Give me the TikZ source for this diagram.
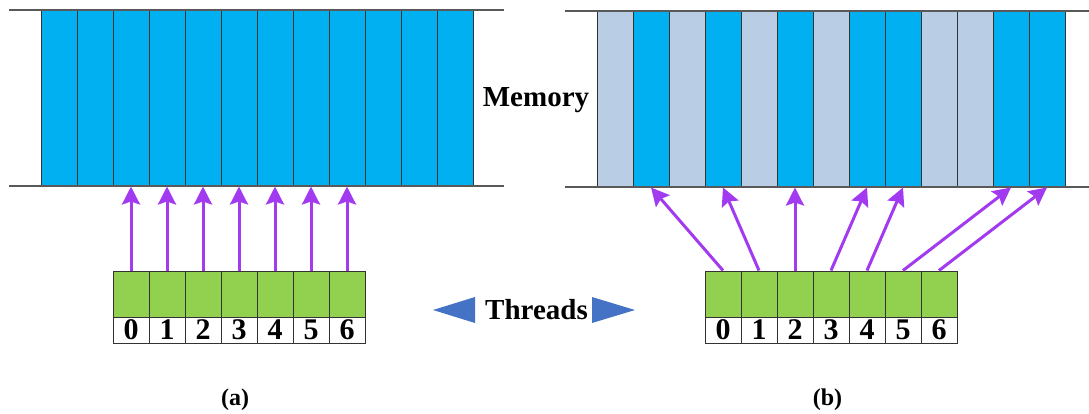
\documentclass[tikz,border=0pt]{standalone}
\usepackage{fontspec}
\setmainfont{Liberation Serif}
\usepackage{tikz}
\usetikzlibrary{arrows.meta}

\definecolor{memblue}{HTML}{00B0F0}
\definecolor{memgrey}{HTML}{B9CDE5}
\definecolor{thrgreen}{HTML}{92D050}
\definecolor{accpurple}{HTML}{A23BF0}
\definecolor{triblue}{HTML}{4472C4}
\definecolor{cellline}{HTML}{333333}
\definecolor{busline}{HTML}{595959}

\begin{document}
\begin{tikzpicture}[x=1pt, y=-1pt, inner sep=0pt, >={Stealth[length=18pt,width=18pt,inset=3pt]},
  cell/.style={rectangle, draw=cellline, line width=1pt, minimum width=36pt, minimum height=176pt},
  thr/.style={rectangle, draw=cellline, line width=1pt, fill=thrgreen, minimum width=36pt, minimum height=46pt},
  idx/.style={rectangle, draw=cellline, line width=1pt, fill=white, minimum width=36pt, minimum height=26pt, font=\fontsize{30}{30}\selectfont\bfseries},
  acc/.style={->, draw=accpurple, line width=3pt},
  bus/.style={draw=busline, line width=1.5pt}]
\useasboundingbox (0,0) rectangle (1089,413);

% memory (a): all words in one row
\foreach \i in {1,...,12}
  \node (ma\i) at (23.3+36*\i,98) [cell, fill=memblue] {};
\draw[bus] (9,10) -- (504,10);
\draw[bus] (9,186) -- (504,186);

% memory (b): scattered words
\foreach \i/\c in {1/memgrey,2/memblue,3/memgrey,4/memblue,5/memgrey,6/memblue,7/memgrey,
                   8/memblue,9/memblue,10/memgrey,11/memgrey,12/memblue,13/memblue}
  \node (mb\i) at (579+36*\i,99) [cell, fill=\c] {};
\draw[bus] (565,11) -- (1089,11);
\draw[bus] (565,187) -- (1089,187);

% threads (a)
\foreach \i in {0,...,6} {
  \node (ta\i) at (131+36*\i,294) [thr] {};
  \node (ia\i) at (131+36*\i,330) [idx] {\i};
  \draw[acc] (ta\i.north) -- (ta\i.north |- ma1.south);
}

% threads (b)
\foreach \i in {0,...,6} {
  \node (tb\i) at (723+36*\i,294) [thr] {};
  \node (ib\i) at (723+36*\i,330) [idx] {\i};
}
\foreach \i/\j in {0/2,1/4,2/6,3/8,4/9,5/12,6/13}
  \draw[acc] (tb\i.north) -- (mb\j.south);

% labels
\node (memlbl) at (536,106.7) [anchor=base, font=\fontsize{29}{29}\selectfont\bfseries] {Memory};
\node (thrlbl) at (536.5,319) [anchor=base, font=\fontsize{29}{29}\selectfont\bfseries] {Threads};
\fill[triblue] (433,310) -- (475,297) -- (475,323) -- cycle;
\fill[triblue] (635,310) -- (592,297) -- (592,323) -- cycle;
\node (capa) at (235,405) [anchor=base, font=\fontsize{24}{24}\selectfont\bfseries] {(a)};
\node (capb) at (827.5,405) [anchor=base, font=\fontsize{24}{24}\selectfont\bfseries] {(b)};
\end{tikzpicture}
\end{document}
